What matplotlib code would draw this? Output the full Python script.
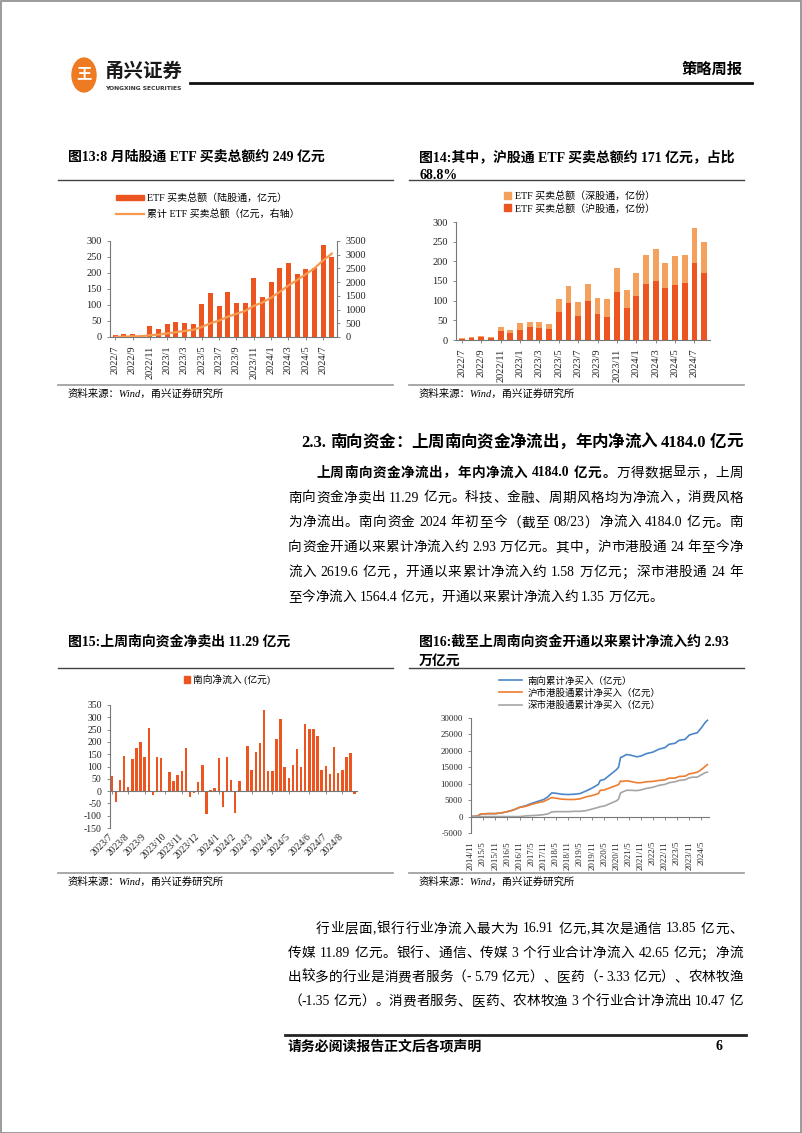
import re
import numpy as np
import pandas as pd
import matplotlib
matplotlib.use('Agg')
import matplotlib.pyplot as plt
import matplotlib.dates as mdates
from matplotlib.patches import Rectangle, Circle, Patch
from matplotlib.lines import Line2D
from matplotlib.ticker import FuncFormatter

W, H = 802, 1133
FONT = ['Liberation Serif', 'Noto Sans CJK SC']
plt.rcParams['font.family'] = FONT
plt.rcParams['axes.unicode_minus'] = False

DARK = '#EC5520'
LIGHT = '#F4A15D'
LINE13 = '#F79A50'
BLUE, ORANGE, GRAY = '#4A86C8', '#ED7D31', '#A5A5A5'

# ---- figure 13 / 14: monthly Stock Connect ETF turnover (100m) ----
etf_months = [f'{d.year}/{d.month}' for d in pd.date_range('2022-07-01', '2024-08-01', freq='MS')]
etf_total = [5, 8, 10, 7, 33, 25, 42, 46, 45, 41, 103, 137, 97, 142, 106, 105,
             183, 126, 171, 216, 232, 197, 214, 215, 286, 249]
etf_hu = [3, 5, 7, 5, 23, 18, 25, 33, 31, 27, 72, 93, 61, 100, 65, 59,
          121, 81, 112, 143, 150, 133, 140, 145, 196, 171]
etf_shen = [2, 3, 3, 2, 10, 7, 17, 13, 14, 14, 31, 44, 36, 42, 41, 46,
            62, 45, 59, 73, 82, 64, 74, 70, 90, 78]

# ---- figure 15: weekly southbound net inflow (100m) ----
south_weeks = pd.date_range('2023-07-07', periods=60, freq='W-FRI')
south_weekly = [63, -44, 44, 141, 17, 130, 175, 199, 137, 258, -16, 137, 133, 0,
                79, 42, 66, 82, 174, -23, -8, 36, 106, -93, 5, 13, 135, -65,
                137, 44, -89, 40, 0, 185, 86, 158, 196, 330, 80, 82, 213, 295,
                97, 55, 107, 173, 100, 273, 253, 252, 225, 87, 102, 70, 178, 73,
                85, 140, 153, -12]

# ---- figure 16: cumulative southbound net buying (100m) ----
cum_dates = ['2014-11', '2015-02', '2015-04', '2015-08', '2015-11', '2016-02', '2016-05',
             '2016-08', '2016-11', '2017-02', '2017-05', '2017-08', '2017-11', '2018-01',
             '2018-03', '2018-05', '2018-08', '2018-11', '2019-02', '2019-05', '2019-08',
             '2019-11', '2020-02', '2020-03', '2020-05', '2020-08', '2020-11', '2020-12',
             '2021-01', '2021-02', '2021-04', '2021-06', '2021-09', '2021-11', '2022-02',
             '2022-05', '2022-08', '2022-11', '2023-01', '2023-04', '2023-06', '2023-09',
             '2023-11', '2024-01', '2024-03', '2024-05', '2024-07', '2024-08']
cum_south = [0, 100, 800, 900, 900, 1100, 1500, 2000, 2800, 3300, 4000, 4600, 5200, 6000,
             7200, 7100, 6800, 6700, 6800, 7000, 7800, 8700, 9800, 11000, 11300, 12800,
             14300, 15000, 18000, 18200, 18900, 18700, 18200, 18400, 19200, 19600, 20500,
             21000, 22000, 22300, 23200, 23500, 24800, 25200, 25500, 27000, 28700, 29300]
cum_sh = [0, 100, 800, 900, 900, 1100, 1500, 2000, 2800, 3100, 3700, 4200, 4600, 5200,
          5800, 5600, 5300, 5200, 5200, 5400, 6000, 6400, 7000, 8000, 8100, 8800,
          9500, 9700, 10800, 10700, 10900, 10700, 10300, 10300, 10600, 10700, 11000,
          11200, 11700, 11700, 12200, 12300, 13000, 13200, 13500, 14300, 15300, 15800]
cum_sz = [0, 0, 0, 0, 0, 0, 0, 0, 0, 200, 300, 400, 600, 800,
          1400, 1500, 1500, 1500, 1600, 1600, 1800, 2300, 2800, 3000, 3200, 4000,
          4800, 5300, 7200, 7500, 8000, 8000, 7900, 8100, 8600, 8900, 9500,
          9800, 10300, 10600, 11000, 11200, 11800, 12000, 12000, 12700, 13400, 13500]

fig = plt.figure(figsize=(W / 100, H / 100), dpi=100)
fig.canvas.draw()
rend = fig.canvas.get_renderer()


def ax_at(x0, y0, x1, y1):
    return fig.add_axes([x0 / W, 1 - y1 / H, (x1 - x0) / W, (y1 - y0) / H])


def txt(x, y, s, **kw):
    kw.setdefault('va', 'center')
    return fig.text(x / W, 1 - y / H, s, **kw)


def hline(x0, x1, y, color='#444', lw=1.0):
    fig.add_artist(Line2D([x0 / W, x1 / W], [1 - y / H] * 2, transform=fig.transFigure,
                          color=color, lw=lw))


TOK = re.compile(r'[A-Za-z0-9.\-/%+]+|.')


def justify(x0, x1, y, segments, size, stretch=True):
    # lay out a line token by token, spreading the spare room evenly (justified)
    items, widths = [], []
    for s, weight in segments:
        for tok in TOK.findall(s):
            t = txt(x0, y, tok, fontsize=size, fontweight=weight)
            items.append(t)
            if tok == ' ':
                widths.append(size * 0.25 * 100 / 72)
            else:
                widths.append(t.get_window_extent(rend).width)
    gap = (x1 - x0 - sum(widths)) / (len(items) - 1) if stretch else 0.0
    xx = x0
    for t, w in zip(items, widths):
        t.set_x(xx / W)
        xx += w + gap


def style_axis(ax, size):
    for s in ('top', 'right'):
        ax.spines[s].set_visible(False)
    for s in ('left', 'bottom'):
        ax.spines[s].set_color('#777')
        ax.spines[s].set_linewidth(0.8)
    ax.tick_params(labelsize=size, length=2.5, width=0.6, color='#777', labelcolor='#222')


# page frame
fig.add_artist(Rectangle((0.5 / W, 0.5 / H), (W - 1.5) / W, (H - 1.5) / H,
                         transform=fig.transFigure, fill=False, ec='#8a8a8a', lw=1.2))

# header
fig.add_artist(Circle((84 / W, 1 - 75 / H), 12 / W, transform=fig.transFigure,
                      color='#EE7A22'))
txt(84, 75, '王', color='white', fontsize=11, fontweight='bold', ha='center')
txt(105, 72, '甬兴证券', fontsize=14, fontweight='bold', color='#1a1a1a')
txt(105, 88, 'YONGXING SECURITIES', fontsize=4.3, fontweight='bold', color='#333',
    family='DejaVu Sans')
hline(190, 752, 83, color='#111', lw=2)
txt(743, 70, '策略周报', fontsize=11, fontweight='bold', ha='right')

TITLE = 10
# titles / rules of the upper row
txt(68, 157, '图13:8 月陆股通 ETF 买卖总额约 249 亿元', fontsize=TITLE, fontweight='bold')
txt(419, 157, '图14:其中，沪股通 ETF 买卖总额约 171 亿元，占比', fontsize=TITLE, fontweight='bold')
txt(419, 175, '68.8%', fontsize=TITLE, fontweight='bold')
hline(58, 393, 180)
hline(409, 744, 180)
hline(58, 393, 385, color='#999', lw=1.2)
hline(409, 744, 385, color='#999', lw=1.2)
txt(68, 394, '资料来源：Wind，甬兴证券研究所', fontsize=7.5, style='italic')
txt(419, 394, '资料来源：Wind，甬兴证券研究所', fontsize=7.5, style='italic')

# ---- chart 13 ----
x = np.arange(len(etf_months))
ax = ax_at(110, 241, 337, 337)
ax.bar(x, etf_total, width=0.6, color=DARK)
ax.set_ylim(0, 300)
ax.set_yticks(range(0, 301, 50))
ax.set_xlim(-0.6, len(x) - 0.4)
ax.set_xticks(x[::2])
ax.set_xticklabels(etf_months[::2], rotation=90)
style_axis(ax, 7.5)
ax2 = ax.twinx()
ax2.plot(x, np.cumsum(etf_total), color=LINE13, lw=1.6)
ax2.set_ylim(0, 3500)
ax2.set_yticks(range(0, 3501, 500))
for s in ('top', 'left', 'bottom'):
    ax2.spines[s].set_visible(False)
ax2.spines['right'].set_color('#777')
ax2.spines['right'].set_linewidth(0.8)
ax2.tick_params(labelsize=7.5, length=2.5, width=0.6, color='#777', labelcolor='#222')
fig.legend(handles=[Patch(color=DARK, label='ETF 买卖总额（陆股通，亿元）'),
                    Line2D([], [], color=LINE13, lw=1.6, label='累计 ETF 买卖总额（亿元，右轴）')],
           loc='center', bbox_to_anchor=(208 / W, 1 - 206 / H), frameon=False, fontsize=7.2,
           handlelength=2.8, handleheight=0.45, handletextpad=0.3, labelspacing=0.55)

# ---- chart 14 ----
ax = ax_at(456, 222, 710, 340)
ax.bar(x, etf_hu, width=0.6, color=DARK)
ax.bar(x, etf_shen, width=0.6, bottom=etf_hu, color=LIGHT)
ax.set_ylim(0, 300)
ax.set_yticks(range(0, 301, 50))
ax.set_xlim(-0.6, len(x) - 0.4)
ax.set_xticks(x[::2])
ax.set_xticklabels(etf_months[::2], rotation=90)
style_axis(ax, 7.5)
fig.legend(handles=[Patch(color=LIGHT, label='ETF 买卖总额（深股通，亿份）'),
                    Patch(color=DARK, label='ETF 买卖总额（沪股通，亿份）')],
           loc='center', bbox_to_anchor=(580 / W, 1 - 202 / H), frameon=False, fontsize=7.2,
           handlelength=0.7, handleheight=0.7, handletextpad=0.4, labelspacing=0.3)

# ---- middle text ----
BODY = 9.8
justify(301, 743, 443, [('2.3. 南向资金：上周南向资金净流出，年内净流入 4184.0 亿元', 'bold')], 11.9)
justify(316, 743, 473, [('上周南向资金净流出，年内净流入 4184.0 亿元。', 'bold'),
                        ('万得数据显示，上周', 'normal')], BODY)
para1 = ['南向资金净卖出 11.29 亿元。科技、金融、周期风格均为净流入，消费风格',
         '为净流出。南向资金 2024 年初至今（截至 08/23）净流入 4184.0 亿元。南',
         '向资金开通以来累计净流入约 2.93 万亿元。其中，沪市港股通 24 年至今净',
         '流入 2619.6 亿元，开通以来累计净流入约 1.58 万亿元；深市港股通 24 年',
         '至今净流入 1564.4 亿元，开通以来累计净流入约 1.35 万亿元。']
for i, line in enumerate(para1):
    justify(288, 743, 498 + i * 24.8, [(line, 'normal')], BODY, stretch=i < len(para1) - 1)

# titles / rules of the lower row
txt(68, 642, '图15:上周南向资金净卖出 11.29 亿元', fontsize=TITLE, fontweight='bold')
txt(419, 642, '图16:截至上周南向资金开通以来累计净流入约 2.93', fontsize=TITLE, fontweight='bold')
txt(419, 661, '万亿元', fontsize=TITLE, fontweight='bold')
hline(58, 393, 668)
hline(409, 744, 668)
hline(58, 393, 873, color='#999', lw=1.2)
hline(409, 744, 873, color='#999', lw=1.2)
txt(68, 882, '资料来源：Wind，甬兴证券研究所', fontsize=7.5, style='italic')
txt(419, 882, '资料来源：Wind，甬兴证券研究所', fontsize=7.5, style='italic')


def ym(v, pos=None):
    d = mdates.num2date(v)
    return f'{d.year}/{d.month}'


# ---- chart 15 ----
ax = ax_at(110, 705, 357, 828)
ax.bar(south_weeks, south_weekly, width=4.2, color=DARK)
ax.set_ylim(-150, 350)
ax.set_yticks(range(-150, 351, 50))
ax.set_xlim(pd.Timestamp('2023-07-04'), pd.Timestamp('2024-08-27'))
month_first = [d for i, d in enumerate(south_weeks) if i == 0 or d.month != south_weeks[i - 1].month]
ax.set_xticks(month_first)
ax.xaxis.set_major_formatter(FuncFormatter(ym))
style_axis(ax, 7)
ax.spines['bottom'].set_position(('data', 0))
ax.tick_params(axis='x', pad=29)
for lab in ax.get_xticklabels():
    lab.set_rotation(45)
    lab.set_ha('right')
    lab.set_va('center')
    lab.set_rotation_mode('anchor')
fig.legend(handles=[Patch(color=DARK, label='南向净流入 (亿元)')],
           loc='center', bbox_to_anchor=(227 / W, 1 - 680 / H), frameon=False, fontsize=7.0,
           handlelength=0.7, handleheight=0.7, handletextpad=0.3)

# ---- chart 16 ----
ax = ax_at(471, 718, 709, 833)
dts = pd.to_datetime(cum_dates)
ax.plot(dts, cum_south, color=BLUE, lw=1.2, label='南向累计净买入（亿元）')
ax.plot(dts, cum_sh, color=ORANGE, lw=1.2, label='沪市港股通累计净买入（亿元）')
ax.plot(dts, cum_sz, color=GRAY, lw=1.2, label='深市港股通累计净买入（亿元）')
ax.set_ylim(-5000, 30000)
ax.set_yticks(range(-5000, 30001, 5000))
ax.set_xlim(pd.Timestamp('2014-11-01'), pd.Timestamp('2024-08-25'))
ax.xaxis.set_major_locator(mdates.MonthLocator(bymonth=(5, 11)))
ax.xaxis.set_major_formatter(FuncFormatter(ym))
style_axis(ax, 6.3)
ax.spines['bottom'].set_position(('data', 0))
ax.tick_params(axis='x', pad=15)
for lab in ax.get_xticklabels():
    lab.set_rotation(90)
fig.legend(handles=ax.get_lines(), loc='center', bbox_to_anchor=(580 / W, 1 - 693 / H),
           frameon=False, fontsize=6.8, handlelength=2.4, handletextpad=0.6,
           labelspacing=0.3)

# ---- bottom text ----
para2 = ['行业层面,银行行业净流入最大为 16.91 亿元,其次是通信 13.85 亿元、',
         '传媒 11.89 亿元。银行、通信、传媒 3 个行业合计净流入 42.65 亿元；净流',
         '出较多的行业是消费者服务（- 5.79 亿元）、医药（- 3.33 亿元）、农林牧渔',
         '（-1.35 亿元）。消费者服务、医药、农林牧渔 3 个行业合计净流出 10.47 亿']
for i, line in enumerate(para2):
    justify(316 if i == 0 else 288, 743, 929 + i * 24.2, [(line, 'normal')], BODY)

hline(285, 746, 1035, color='#222', lw=2)
txt(288, 1047, '请务必阅读报告正文后各项声明', fontsize=10, fontweight='bold')
txt(719, 1047, '6', fontsize=10, fontweight='bold', ha='center')

fig.savefig('out.png', dpi=100)
